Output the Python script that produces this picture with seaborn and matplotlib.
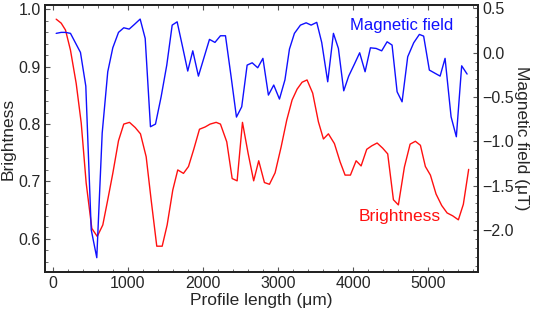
import numpy as np
import pandas as pd
import seaborn as sns
import matplotlib
matplotlib.use("Agg")
import matplotlib.pyplot as plt
from matplotlib.ticker import MultipleLocator

# magnetic field profile (blue, right axis)
MAG_X = [49, 116, 173, 239, 372, 443, 515, 589, 661, 735, 802, 878, 948, 1020, 1090,
         1166, 1233, 1303, 1370, 1445, 1520, 1592, 1658, 1733, 1799, 1866, 1941, 2012,
         2088, 2161, 2234, 2301, 2376, 2447, 2517, 2589, 2656, 2730, 2799, 2872, 2943,
         3019, 3092, 3152, 3218, 3298, 3374, 3440, 3515, 3581, 3661, 3737, 3803, 3874,
         3940, 4016, 4086, 4158, 4229, 4305, 4379, 4451, 4517, 4584, 4650, 4725, 4805,
         4880, 4937, 5013, 5084, 5156, 5222, 5302, 5372, 5443, 5515]
MAG_Y = [0.218, 0.229, 0.229, 0.218, 0.003, -0.377, -1.996, -2.312, -0.906, -0.215,
         0.055, 0.229, 0.281, 0.266, 0.319, 0.379, 0.161, -0.835, -0.805, -0.497,
         -0.140, 0.311, 0.348, 0.055, -0.207, 0.021, -0.264, -0.064, 0.150, 0.116,
         0.191, 0.191, -0.272, -0.726, -0.610, -0.140, -0.114, -0.170, -0.064, -0.478,
         -0.365, -0.523, -0.306, 0.041, 0.218, 0.311, 0.337, 0.311, 0.342, 0.116,
         -0.328, 0.218, 0.048, -0.430, -0.264, -0.129, -0.001, -0.215, 0.055, 0.048,
         0.021, 0.123, 0.086, -0.441, -0.554, -0.046, 0.112, 0.206, 0.187, -0.196,
         -0.230, -0.264, -0.064, -0.723, -0.948, -0.148, -0.241]

# brightness profile (red, left axis)
BRI_X = [49, 116, 173, 239, 315, 382, 448, 523, 595, 669, 735, 802, 878, 948, 1024,
         1100, 1170, 1246, 1312, 1387, 1459, 1525, 1600, 1666, 1742, 1809, 1879, 1955,
         2031, 2097, 2177, 2234, 2318, 2390, 2456, 2527, 2602, 2676, 2743, 2819, 2886,
         2961, 3041, 3116, 3187, 3254, 3320, 3386, 3461, 3537, 3604, 3670, 3750, 3826,
         3892, 3963, 4039, 4105, 4180, 4246, 4318, 4392, 4459, 4535, 4601, 4681, 4757,
         4827, 4894, 4960, 5027, 5102, 5177, 5249, 5323, 5399, 5465, 5536]
BRI_Y = [0.983, 0.976, 0.964, 0.929, 0.871, 0.802, 0.697, 0.618, 0.604, 0.624, 0.668,
         0.714, 0.771, 0.800, 0.803, 0.794, 0.783, 0.743, 0.668, 0.587, 0.587, 0.624,
         0.685, 0.720, 0.714, 0.726, 0.756, 0.791, 0.795, 0.800, 0.803, 0.800, 0.769,
         0.705, 0.701, 0.803, 0.749, 0.701, 0.736, 0.698, 0.695, 0.715, 0.760, 0.807,
         0.842, 0.861, 0.873, 0.877, 0.854, 0.804, 0.774, 0.783, 0.766, 0.734, 0.711,
         0.711, 0.736, 0.727, 0.756, 0.762, 0.767, 0.758, 0.748, 0.668, 0.659, 0.725,
         0.765, 0.770, 0.763, 0.726, 0.711, 0.678, 0.658, 0.645, 0.640, 0.633, 0.660,
         0.721]

mag = pd.DataFrame({"x": MAG_X, "y": MAG_Y})
bri = pd.DataFrame({"x": BRI_X, "y": BRI_Y})

sns.set_style("ticks")
plt.rcParams["font.family"] = ["Liberation Sans", "DejaVu Sans"]

fig, ax = plt.subplots(figsize=(5.33, 3.17), dpi=100)
fig.subplots_adjust(left=0.0844, right=0.8968, top=0.984, bottom=0.142)
ax2 = ax.twinx()

sns.lineplot(data=bri, x="x", y="y", ax=ax, color="#ff1010", linewidth=1.0)
sns.lineplot(data=mag, x="x", y="y", ax=ax2, color="#1010ff", linewidth=1.0)

ax.set_xlim(-100, 5660)
ax.set_ylim(0.542, 1.0076)
ax2.set_ylim(-2.473, 0.537)

ax.set_xticks([0, 1000, 2000, 3000, 4000, 5000])
ax.xaxis.set_minor_locator(MultipleLocator(200))
ax.set_yticks([0.6, 0.7, 0.8, 0.9, 1.0])
ax.yaxis.set_minor_locator(MultipleLocator(0.02))
ax2.set_yticks([-2.0, -1.5, -1.0, -0.5, 0.0, 0.5])
ax2.yaxis.set_minor_locator(MultipleLocator(0.1))

ax.tick_params(axis="both", which="both", direction="in", labelsize=11.5,
               color="#555555", top=True)
ax.tick_params(axis="both", which="major", length=3.5, pad=3)
ax.tick_params(axis="both", which="minor", length=2)
ax.tick_params(axis="y", right=False)
ax2.tick_params(axis="y", which="both", direction="in", labelsize=11.5, color="#555555")
ax2.tick_params(axis="y", which="major", length=3.5, pad=3)
ax2.tick_params(axis="y", which="minor", length=2)

ax.set_xlabel("Profile length (μm)", fontsize=12.5, labelpad=1)
ax.set_ylabel("Brightness", fontsize=12.5, labelpad=2)
ax2.set_ylabel("Magnetic field (μT)", fontsize=12.5, rotation=270, labelpad=11)

for a in (ax, ax2):
    for s in a.spines.values():
        s.set_visible(True)
        s.set_linewidth(1.3)
        s.set_color("#222222")

ax2.text(4650, 0.31, "Magnetic field", color="#1010ff", fontsize=12, ha="center", va="center")
ax.text(4614, 0.638, "Brightness", color="#ff1010", fontsize=12.5, ha="center", va="center")

fig.savefig("out.png", dpi=100)
